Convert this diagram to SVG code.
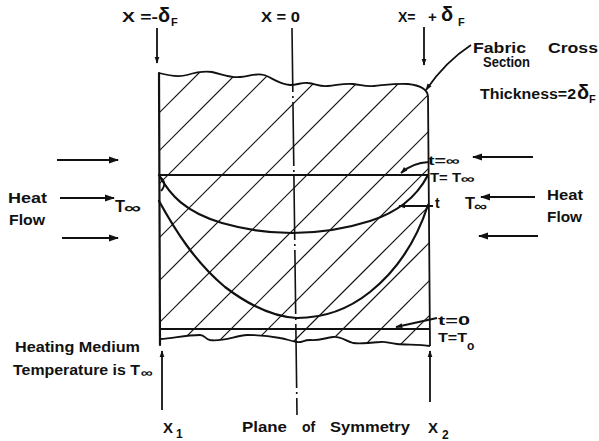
<svg xmlns="http://www.w3.org/2000/svg" width="599" height="441" viewBox="0 0 599 441">
<style>
text{font-family:"Liberation Sans",Arial,sans-serif;font-weight:bold;fill:#111}
.m{font-size:14px}
.l{font-size:15px}
.b{font-size:17px}
.d{font-size:20px}
.sm{font-size:12px}
.s{font-size:11px}
.th{stroke:#111;stroke-width:2.2;fill:none;stroke-linecap:round}
.md{stroke:#111;stroke-width:1.8;fill:none}
.ht{stroke:#111;stroke-width:1.2;fill:none}
</style>
<defs>
<marker id="ah" viewBox="0 0 10 10" refX="9" refY="5" markerWidth="7" markerHeight="7" orient="auto" markerUnits="userSpaceOnUse"><path d="M0,1.5 L10,5 L0,8.5 Z" fill="#111"/></marker>
<marker id="ahl" viewBox="0 0 10 10" refX="9" refY="5" markerWidth="10" markerHeight="10" orient="auto" markerUnits="userSpaceOnUse"><path d="M0,1.5 L10,5 L0,8.5 Z" fill="#111"/></marker>
<clipPath id="fab"><path d="M159,73 C170,76 180,77 187,75 C197,72 204,71 212,72 C222,74 230,78 240,77 C250,76 256,73 264,75 C271,77 278,84 290,85 C298,85 302,82 308,83 C316,84 320,87 328,86 C338,85 345,83 353,84 C362,85 366,87 374,86 C385,85 398,83 408,84 C418,85 427,88 428,96 L430,346 C420,344 407,345 397,344 C388,343 385,341 380,342 C370,343 360,344 353,343 C344,340 340,336 333,337 C325,338 318,341 310,340 C303,340 302,343 297,342 C290,341 287,339 280,338 C270,336 258,335 247,335 C235,336 222,342 210,340 C205,339 205,335 200,335 C185,335 175,338 160,339 Z"/></clipPath>
</defs>

<g id="fabric">
<g clip-path="url(#fab)" class="ht">
<line x1="272" y1="0" x2="-128" y2="400"/>
<line x1="310" y1="0" x2="-90" y2="400"/>
<line x1="343" y1="0" x2="-57" y2="400"/>
<line x1="397" y1="0" x2="-3" y2="400"/>
<line x1="440" y1="0" x2="40" y2="400"/>
<line x1="482" y1="0" x2="82" y2="400"/>
<line x1="523" y1="0" x2="123" y2="400"/>
<line x1="560" y1="0" x2="160" y2="400"/>
<line x1="597" y1="0" x2="197" y2="400"/>
<line x1="635" y1="0" x2="235" y2="400"/>
<line x1="672" y1="0" x2="272" y2="400"/>
<line x1="710" y1="0" x2="310" y2="400"/>
<line x1="745" y1="0" x2="345" y2="400"/>
</g>
<path class="md" d="M159,73 C170,76 180,77 187,75 C197,72 204,71 212,72 C222,74 230,78 240,77 C250,76 256,73 264,75 C271,77 278,84 290,85 C298,85 302,82 308,83 C316,84 320,87 328,86 C338,85 345,83 353,84 C362,85 366,87 374,86 C385,85 398,83 408,84 C418,85 427,88 428,96 L430,346"/>
<path class="md" d="M430,346 C420,344 407,345 397,344 C388,343 385,341 380,342 C370,343 360,344 353,343 C344,340 340,336 333,337 C325,338 318,341 310,340 C303,340 302,343 297,342 C290,341 287,339 280,338 C270,336 258,335 247,335 C235,336 222,342 210,340 C205,339 205,335 200,335 C185,335 175,338 160,339"/>
<line class="th" x1="159" y1="73" x2="160" y2="345"/>
</g>

<g id="profiles">
<line class="md" x1="159" y1="175" x2="428" y2="175"/>
<line class="md" x1="160" y1="329" x2="430" y2="329"/>
<path class="th" d="M159,175 C170,195 185,212 222,223 C250,231 270,233 292,233 C318,233 345,229 370,221 C395,213 415,200 428,175"/>
<path class="th" d="M159,201 C175,230 195,262 225,287 C250,306 275,317 297,318 C325,318 350,308 370,292 C395,272 415,245 428,205"/>
<path class="md" d="M160,177 Q168,183 161,191"/>
</g>

<g id="symmetry">
<line x1="292" y1="28" x2="297" y2="415" stroke="#111" stroke-width="1.6" stroke-dasharray="64 4 2 4"/>
</g>

<g id="connectors" class="md">
<line x1="157" y1="28" x2="157" y2="63" marker-end="url(#ah)"/>
<line x1="424" y1="27" x2="424" y2="65" marker-end="url(#ah)"/>
<line x1="162" y1="410" x2="162" y2="351" marker-end="url(#ah)"/>
<line x1="430" y1="402" x2="430" y2="351" marker-end="url(#ah)"/>
<line x1="57" y1="160" x2="118" y2="160" marker-end="url(#ahl)"/>
<line x1="60" y1="198" x2="114" y2="198" marker-end="url(#ahl)"/>
<line x1="62" y1="238" x2="118" y2="238" marker-end="url(#ahl)"/>
<line x1="533" y1="157" x2="473" y2="157" marker-end="url(#ahl)"/>
<line x1="535" y1="197" x2="481" y2="197" marker-end="url(#ahl)"/>
<line x1="538" y1="236" x2="479" y2="236" marker-end="url(#ahl)"/>
<path d="M471,45 Q445,62 426,90" marker-end="url(#ah)"/>
<path d="M429,162 Q412,163 401,173" marker-end="url(#ah)"/>
<line x1="433" y1="206" x2="399" y2="206" marker-end="url(#ah)"/>
<line x1="437" y1="318" x2="396" y2="327" marker-end="url(#ah)"/>
</g>

<g id="labels">
<text class="m" x="122" y="22" textLength="36" lengthAdjust="spacingAndGlyphs">X =-</text><text class="d" x="158" y="22">δ</text><text class="s" x="171" y="26">F</text>
<text class="m" x="261" y="22" textLength="39" lengthAdjust="spacingAndGlyphs">X = 0</text>
<text class="m" x="398" y="22">X=</text><text class="l" x="428" y="22">+</text><text class="d" x="441" y="21">δ</text><text class="s" x="458" y="26">F</text>
<text class="l" x="473" y="53" textLength="53" lengthAdjust="spacingAndGlyphs">Fabric</text>
<text class="l" x="548" y="53" textLength="50" lengthAdjust="spacingAndGlyphs">Cross</text>
<text class="m" x="483" y="67" textLength="47" lengthAdjust="spacingAndGlyphs">Section</text>
<text class="m" x="480" y="99" textLength="96" lengthAdjust="spacingAndGlyphs">Thickness=2</text><text class="d" x="577" y="99">δ</text><text class="s" x="589" y="103">F</text>
<text class="l" x="8" y="203" textLength="39" lengthAdjust="spacingAndGlyphs">Heat</text>
<text class="l" x="9" y="225" textLength="36" lengthAdjust="spacingAndGlyphs">Flow</text>
<text class="b" x="115" y="212" textLength="10" lengthAdjust="spacingAndGlyphs">T</text><text class="l" x="124" y="213" textLength="17" lengthAdjust="spacingAndGlyphs">∞</text>
<text class="l" x="547" y="200" textLength="36" lengthAdjust="spacingAndGlyphs">Heat</text>
<text class="l" x="547" y="222" textLength="35" lengthAdjust="spacingAndGlyphs">Flow</text>
<text class="b" x="465" y="209" textLength="10" lengthAdjust="spacingAndGlyphs">T</text><text class="m" x="474" y="211" textLength="13" lengthAdjust="spacingAndGlyphs">∞</text>
<text class="sm" x="428" y="165" textLength="32" lengthAdjust="spacingAndGlyphs">t=∞</text>
<text class="sm" x="430" y="182" textLength="31" lengthAdjust="spacingAndGlyphs">T= T</text><text class="sm" x="461" y="183" textLength="14" lengthAdjust="spacingAndGlyphs">∞</text>
<text class="m" x="435" y="208">t</text>
<text class="sm" x="438" y="325" textLength="32" lengthAdjust="spacingAndGlyphs">t=0</text>
<text class="sm" x="438" y="342" textLength="29" lengthAdjust="spacingAndGlyphs">T=T</text><text class="sm" x="467" y="350">o</text>
<text class="m" x="15" y="352" textLength="125" lengthAdjust="spacingAndGlyphs">Heating Medium</text>
<text class="m" x="13" y="375" textLength="127" lengthAdjust="spacingAndGlyphs">Temperature is T</text><text class="sm" x="141" y="377" textLength="12" lengthAdjust="spacingAndGlyphs">∞</text>
<text class="l" x="163" y="433">X</text><text class="sm" x="176" y="438">1</text>
<text class="m" x="242" y="432" textLength="45" lengthAdjust="spacingAndGlyphs">Plane</text>
<text class="m" x="302" y="432">of</text>
<text class="m" x="330" y="432" textLength="80" lengthAdjust="spacingAndGlyphs">Symmetry</text>
<text class="l" x="428" y="433">X</text><text class="sm" x="442" y="439">2</text>
</g>
</svg>
